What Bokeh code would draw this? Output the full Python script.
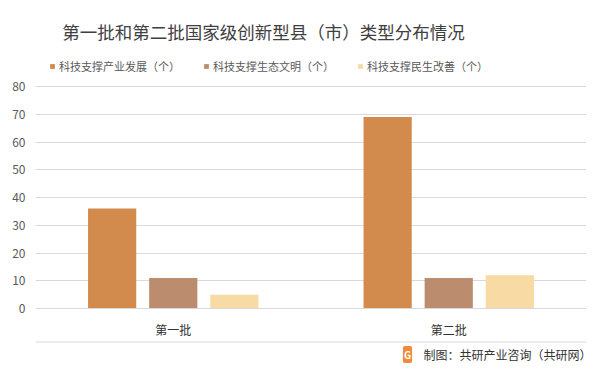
from bokeh.plotting import figure
from bokeh.models import (ColumnDataSource, FactorRange, Range1d, FixedTicker, Legend, LegendItem,
                          Label, BoxAnnotation)
from bokeh.layouts import column
from bokeh.transform import dodge
from bokeh.embed import file_html
from bokeh.resources import INLINE

categories = ["第一批", "第二批"]
series_names = ["科技支撑产业发展（个）", "科技支撑生态文明（个）", "科技支撑民生改善（个）"]
industry = [36, 69]
ecology = [11, 11]
livelihood = [5, 12]
y_ticks = [0, 10, 20, 30, 40, 50, 60, 70, 80]
colors = ["#D38B4D", "#BB8D6E", "#F8DAA4"]

FONT = "Noto Sans CJK SC"
W = 597

source = ColumnDataSource(data=dict(cat=categories, s0=industry, s1=ecology, s2=livelihood))

# frame spans canvas top (0) to 308px; 80 units = 222px -> top of range ~111
p = figure(width=W, height=340, x_range=FactorRange(*categories, range_padding=0),
           y_range=Range1d(0, 80 * 308 / 222), output_backend="svg", toolbar_location=None,
           min_border_left=35, min_border_right=W - 586, min_border_top=0, min_border_bottom=32)
p.outline_line_color = None

offsets = [-0.2218, 0.0, 0.2218]
renderers = []
for i, col in enumerate(["s0", "s1", "s2"]):
    r = p.vbar(x=dodge("cat", offsets[i], range=p.x_range), top=col, width=0.175,
               source=source, color=colors[i], line_color=None)
    renderers.append(r)

p.xgrid.grid_line_color = None
p.ygrid.grid_line_color = "#D9D9D9"
p.ygrid.grid_line_width = 1
p.yaxis.ticker = FixedTicker(ticks=y_ticks)
p.yaxis.axis_line_color = None
p.yaxis.major_tick_line_color = None
p.yaxis.major_tick_out = 0
p.yaxis.minor_tick_line_color = None
p.yaxis.major_label_text_font = FONT
p.yaxis.major_label_text_font_size = "12px"
p.yaxis.major_label_text_color = "#595959"
p.yaxis.major_label_standoff = 10

p.xaxis.axis_line_color = "#D9D9D9"
p.xaxis.major_tick_line_color = None
p.xaxis.major_tick_out = 0
p.xaxis.minor_tick_line_color = None
p.xaxis.major_label_text_font = FONT
p.xaxis.major_label_text_font_size = "12px"
p.xaxis.major_label_text_color = "#333333"
p.xaxis.major_label_standoff = 12

legend = Legend(items=[LegendItem(label=series_names[i], renderers=[renderers[i]]) for i in range(3)],
                orientation="horizontal", location=(14, 234), padding=0, margin=0,
                border_line_color=None, background_fill_alpha=0,
                glyph_width=6, glyph_height=6, label_standoff=4, spacing=23,
                label_text_font=FONT, label_text_font_size="11px", label_text_color="#595959",
                label_height=14)
p.add_layout(legend, "center")

title = Label(x=263, y=31, x_units="canvas", y_units="canvas",
              text="第一批和第二批国家级创新型县（市）类型分布情况",
              text_font=FONT, text_font_size="17.5px", text_color="#404040",
              text_align="center", text_baseline="middle")
p.add_layout(title)

# footer strip
f = figure(width=W, height=30, x_range=Range1d(0, 1), y_range=Range1d(0, 1),
           output_backend="svg", toolbar_location=None, min_border=0)
f.axis.visible = False
f.grid.visible = False
f.outline_line_color = None

line = BoxAnnotation(left=20, right=592, top=1, bottom=2,
                     left_units="canvas", right_units="canvas", top_units="canvas", bottom_units="canvas",
                     fill_color="#D9D9D9", fill_alpha=1, line_color=None)
f.add_layout(line)

footer = Label(x=591, y=14, x_units="canvas", y_units="canvas",
               text="制图：共研产业咨询（共研网）", text_font=FONT, text_font_size="12px",
               text_color="#333333", text_align="right", text_baseline="middle")
f.add_layout(footer)

logo = Label(x=407, y=14, x_units="canvas", y_units="canvas", text="G",
             text_font=FONT, text_font_size="10px", text_font_style="bold", text_color="white",
             text_align="center", text_baseline="middle",
             background_fill_color="#F28A3A", border_radius=2, padding=1)
f.add_layout(logo)

layout = column(p, f, spacing=0)
open("out.html", "w").write(file_html(layout, INLINE))
